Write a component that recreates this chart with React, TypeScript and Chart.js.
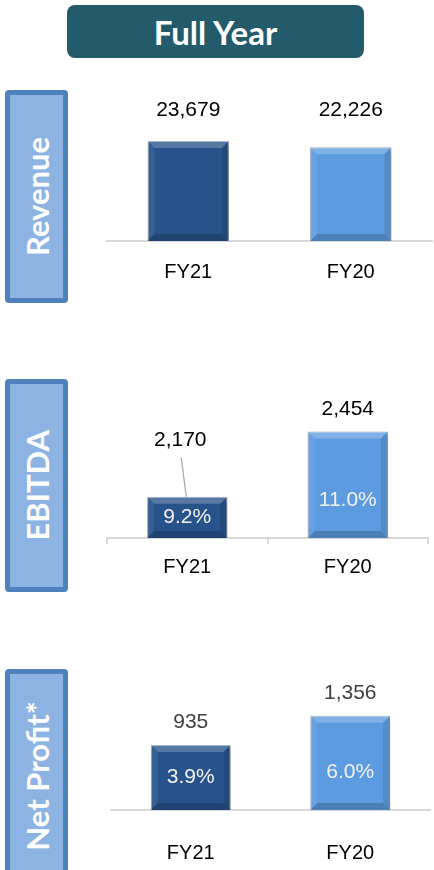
import React, { useEffect, useRef } from "react";
import { Chart, registerables } from "chart.js";

Chart.register(...registerables);

const headerTitle = "Full Year";
const sectionTitles = ["Revenue", "EBITDA", "Net Profit*"];
const categories = ["FY21", "FY20"];
const revenueValues = [23679, 22226];
const ebitdaValues = [2170, 2454];
const ebitdaMargins = ["9.2%", "11.0%"];
const netProfitValues = [935, 1356];
const netProfitMargins = ["3.9%", "6.0%"];
const barColors = ["#28528a", "#5d9be0"];

const LABEL_FONT = "'Liberation Sans', Arial, sans-serif";

function poly(ctx: CanvasRenderingContext2D, pts: number[][], fill: string) {
  ctx.beginPath();
  ctx.moveTo(pts[0][0], pts[0][1]);
  for (let i = 1; i < pts.length; i++) ctx.lineTo(pts[i][0], pts[i][1]);
  ctx.closePath();
  ctx.fillStyle = fill;
  ctx.fill();
}

const bevelLabelsPlugin = {
  id: "bevelLabels",
  beforeDatasetsDraw(chart: any) {
    const ctx = chart.ctx;
    ctx.save();
    ctx.shadowColor = "rgba(0,0,0,0.35)";
    ctx.shadowBlur = 6;
    ctx.shadowOffsetX = 1;
    ctx.shadowOffsetY = 3;
  },
  afterDatasetsDraw(chart: any, _args: any, opts: any) {
    const ctx: CanvasRenderingContext2D = chart.ctx;
    ctx.restore();
    const meta = chart.getDatasetMeta(0);
    const values = chart.data.datasets[0].data as number[];
    meta.data.forEach((el: any, i: number) => {
      const { x, y, base, width } = el.getProps(["x", "y", "base", "width"], true);
      const L = x - width / 2;
      const R = x + width / 2;
      const T = Math.min(y, base);
      const B = Math.max(y, base);
      const b = Math.min(7, (B - T) / 2);
      ctx.save();
      poly(ctx, [[L, T], [R, T], [R - b, T + b], [L + b, T + b]], "rgba(255,255,255,0.22)");
      poly(ctx, [[L, T], [L + b, T + b], [L + b, B - b], [L, B]], "rgba(255,255,255,0.08)");
      poly(ctx, [[R, T], [R, B], [R - b, B - b], [R - b, T + b]], "rgba(0,0,0,0.10)");
      poly(ctx, [[L, B], [R, B], [R - b, B - b], [L + b, B - b]], "rgba(0,0,0,0.18)");
      ctx.restore();

      // value label
      ctx.save();
      ctx.font = `21px ${LABEL_FONT}`;
      ctx.textAlign = "center";
      ctx.textBaseline = "middle";
      ctx.fillStyle = opts.valueColor || "#000";
      let lx = x;
      let ly = opts.fixedTop !== undefined ? opts.fixedTop : T - (opts.offset || 22);
      if (opts.leader && opts.leader.index === i) {
        lx = x + opts.leader.dx;
        ly = T - opts.leader.dy;
        ctx.strokeStyle = "#a6a6a6";
        ctx.lineWidth = 1.2;
        ctx.beginPath();
        ctx.moveTo(lx + 1, ly + 17);
        ctx.lineTo(x - 1, T);
        ctx.stroke();
      }
      ctx.fillText(Number(values[i]).toLocaleString("en-US"), lx, ly);

      if (opts.inner) {
        ctx.fillStyle = "#f2f2f2";
        ctx.fillText(opts.inner[i], x, B - Math.min((B - T) / 2, 38));
      }
      ctx.restore();
    });
  },
};

type SectionProps = {
  values: number[];
  inner?: string[];
  plotLeft: number;
  plotWidth: number;
  top: number;
  plotHeight: number;
  min: number;
  max: number;
  ticks: boolean;
  tickPadding: number;
  labelOpts: any;
};

function BarSection(p: SectionProps) {
  const ref = useRef<HTMLCanvasElement | null>(null);
  const side = 4;
  const tickLen = p.ticks ? 6 : 0;
  const axisHeight = tickLen + 24 + 2 * p.tickPadding;
  const cw = p.plotWidth + side * 2;
  const ch = p.plotHeight + axisHeight;

  useEffect(() => {
    if (!ref.current) return;
    const chart = new Chart(ref.current, {
      type: "bar",
      data: {
        labels: categories,
        datasets: [
          {
            data: p.values,
            base: p.min,
            backgroundColor: barColors,
            borderColor: "rgba(140,160,190,0.9)",
            borderWidth: 1,
            barPercentage: 0.5,
            categoryPercentage: 1,
            clip: false as any,
          } as any,
        ],
      },
      options: {
        animation: false,
        responsive: false,
        maintainAspectRatio: false,
        layout: { padding: { left: side, right: side, top: 0, bottom: 0 } },
        plugins: {
          legend: { display: false },
          tooltip: { enabled: false },
          bevelLabels: { ...p.labelOpts, inner: p.inner },
        } as any,
        scales: {
          x: {
            grid: {
              display: p.ticks,
              drawOnChartArea: false,
              drawTicks: p.ticks,
              tickLength: 6,
              color: "#d9d9d9",
              lineWidth: 2,
            },
            border: { display: true, color: "#d9d9d9", width: 2 },
            ticks: {
              color: "#000",
              font: { family: LABEL_FONT, size: 20 },
              padding: p.tickPadding,
            },
          },
          y: { display: false, min: p.min, max: p.max },
        },
      },
      plugins: [bevelLabelsPlugin],
    });
    return () => chart.destroy();
  }, []);

  return (
    <canvas
      ref={ref}
      width={cw}
      height={ch}
      style={{
        position: "absolute",
        left: p.plotLeft - side,
        top: p.top,
        width: cw,
        height: ch,
      }}
    />
  );
}

function SideLabel({ text, top }: { text: string; top: number }) {
  return (
    <div
      style={{
        position: "absolute",
        left: 5,
        top,
        width: 63,
        height: 213,
        boxSizing: "border-box",
        border: "5px solid #4f81bd",
        borderRadius: 4,
        background: "#8db3e2",
        display: "flex",
        alignItems: "center",
        justifyContent: "center",
      }}
    >
      <span
        style={{
          writingMode: "vertical-rl",
          transform: "rotate(180deg)",
          color: "#ffffff",
          fontFamily: "Lato, 'Open Sans', sans-serif",
          fontWeight: 700,
          fontSize: 31,
          whiteSpace: "nowrap",
        }}
      >
        {text}
      </span>
    </div>
  );
}

export default function App() {
  return (
    <div
      style={{
        position: "fixed",
        left: 0,
        top: 0,
        width: 434,
        height: 870,
        overflow: "hidden",
        background: "#ffffff",
      }}
    >
      <div
        style={{
          position: "absolute",
          left: 67,
          top: 5,
          width: 297,
          height: 53,
          borderRadius: 8,
          background: "#235b6a",
          color: "#ffffff",
          display: "flex",
          alignItems: "center",
          justifyContent: "center",
          fontFamily: "Lato, 'Open Sans', sans-serif",
          fontWeight: 700,
          fontSize: 33,
        }}
      >
        {headerTitle}
      </div>

      <SideLabel text={sectionTitles[0]} top={90} />
      <SideLabel text={sectionTitles[1]} top={379} />
      <SideLabel text={sectionTitles[2]} top={669} />

      <BarSection
        values={revenueValues}
        plotLeft={107}
        plotWidth={325}
        top={89}
        plotHeight={152}
        min={0}
        max={36000}
        ticks={false}
        tickPadding={19}
        labelOpts={{ valueColor: "#000000", fixedTop: 21 }}
      />
      <BarSection
        values={ebitdaValues}
        inner={ebitdaMargins}
        plotLeft={107}
        plotWidth={321}
        top={398}
        plotHeight={140}
        min={1990}
        max={2600}
        ticks={true}
        tickPadding={11}
        labelOpts={{ valueColor: "#000000", offset: 22, leader: { index: 0, dx: -7, dy: 56 } }}
      />
      <BarSection
        values={netProfitValues}
        inner={netProfitMargins}
        plotLeft={111}
        plotWidth={319}
        top={678}
        plotHeight={132}
        min={0}
        max={1900}
        ticks={false}
        tickPadding={31}
        labelOpts={{ valueColor: "#404040", offset: 23 }}
      />
    </div>
  );
}
